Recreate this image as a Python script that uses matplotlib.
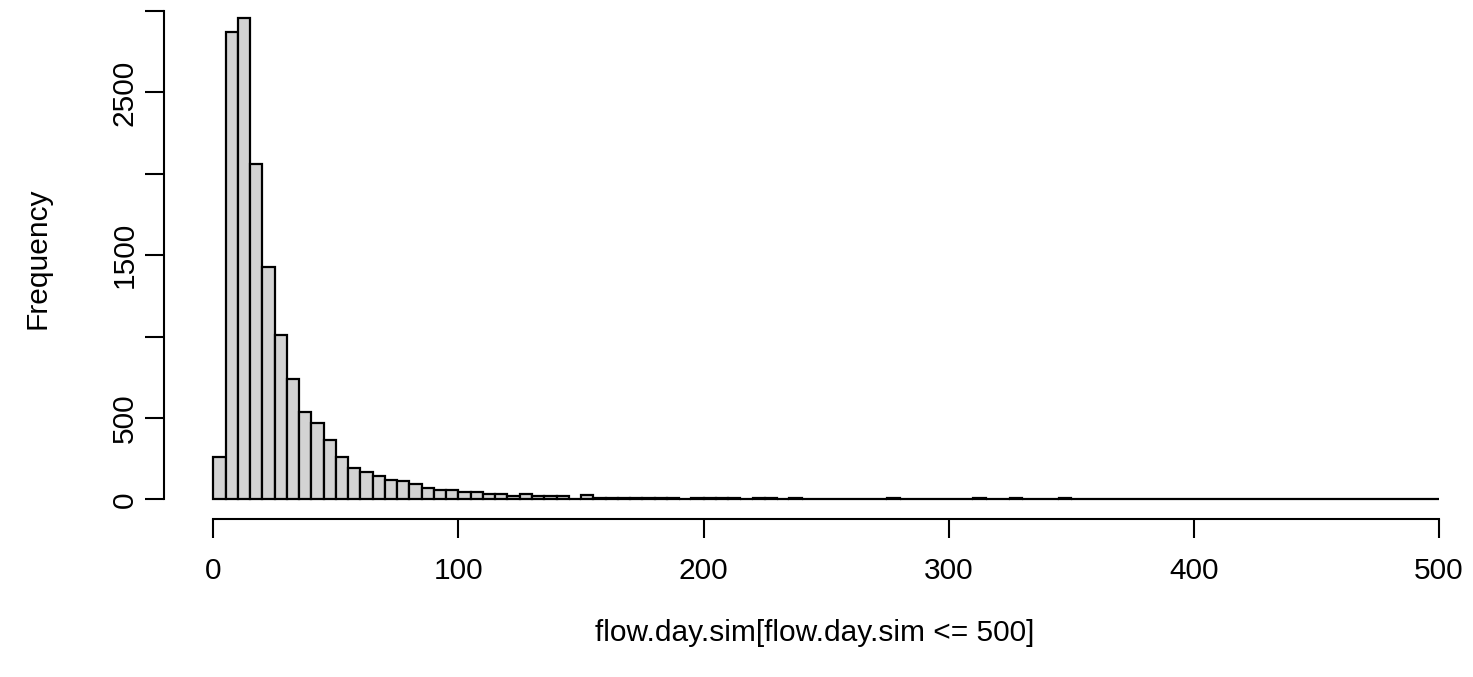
import numpy as np
import matplotlib.pyplot as plt

plt.rcParams['font.family'] = ['Liberation Sans', 'DejaVu Sans']

# histogram of flow.day.sim (<= 500), bins of width 5
bin_edges = np.arange(0, 505, 5)
counts = [257, 2870, 2955, 2057, 1430, 1010, 738, 537, 466, 367,
          257, 195, 168, 145, 120, 111, 94, 72, 60, 60,
          47, 47, 33, 33, 20, 35, 20, 20, 20, 2,
          25, 9, 8, 8, 7, 7, 7, 7, 0, 7,
          7, 7, 7, 0, 7, 7, 0, 7, 0, 0,
          0, 0, 0, 0, 0, 7, 0, 0, 0, 0,
          0, 0, 7, 0, 0, 7, 0, 0, 0, 7,
          0, 0, 0, 0, 0, 0, 0, 0, 0, 0,
          0, 0, 0, 0, 0, 0, 0, 0, 0, 0,
          0, 0, 0, 0, 0, 0, 0, 0, 0, 0]
x_ticks = [0, 100, 200, 300, 400, 500]
y_ticks = [0, 500, 1000, 1500, 2000, 2500, 3000]
y_tick_labels = ['0', '500', '', '1500', '', '2500', '']

W, H = 1473, 677
fig = plt.figure(figsize=(W / 100, H / 100), dpi=100)

# plot region in pixels (the picture is cropped on the top and right)
left_px, bottom_px = 164.3, 519.3
ax = fig.add_axes([left_px / W, 1 - bottom_px / H, 1 - left_px / W, bottom_px / H])

px_per_x = (1439 - 213.3) / 500
px_per_y = (499.3 - 11) / 3000
ax.set_xlim(-20, (W - 213.3) / px_per_x)
ax.set_ylim(-(bottom_px - 499.3) / px_per_y, 499.3 / px_per_y)

ax.bar(bin_edges[:-1], counts, width=5, align='edge', color='#d3d3d3',
       edgecolor='black', linewidth=1.6)

for s in ['top', 'right']:
    ax.spines[s].set_visible(False)
for s in ['left', 'bottom']:
    ax.spines[s].set_linewidth(1.5)
ax.spines['bottom'].set_bounds(0, 500)
ax.spines['left'].set_bounds(0, 3000)

ax.set_xticks(x_ticks)
ax.set_xticklabels([str(v) for v in x_ticks])
ax.set_yticks(y_ticks)
ax.set_yticklabels(y_tick_labels, rotation=90, va='center')
ax.tick_params(direction='out', length=13.5, width=1.5, labelsize=21.5,
               colors='black')
ax.tick_params(axis='x', pad=14)
ax.tick_params(axis='y', pad=5)

fig.text(815 / W, 1 - 633 / H, 'flow.day.sim[flow.day.sim <= 500]',
         ha='center', va='center', fontsize=21.5)
fig.text(38 / W, 1 - 258 / H, 'Frequency', ha='center', va='center',
         rotation=90, fontsize=21.5)

fig.savefig('out.png', dpi=100)
